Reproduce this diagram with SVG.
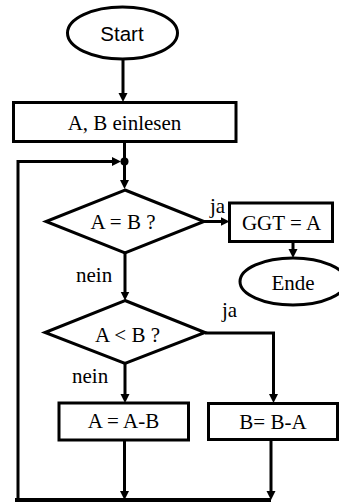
<svg xmlns="http://www.w3.org/2000/svg" width="339" height="502" viewBox="0 0 339 502">
  <style>
    .shape { fill: #fff; stroke: #000; stroke-width: 3; }
    .edge { fill: none; stroke: #000; stroke-width: 3; }
    .serif { font-family: "Liberation Serif", "Times New Roman", serif; font-size: 21px; fill: #000; }
    .sans { font-family: "Liberation Sans", Arial, sans-serif; font-size: 20.5px; fill: #000; }
    .mid { text-anchor: middle; }
  </style>
  <defs>
    <marker id="arrow" markerUnits="userSpaceOnUse" markerWidth="10" markerHeight="10" refX="4" refY="4.5" orient="auto">
      <path d="M0,0 L9,4.5 L0,9 z" fill="#000"/>
    </marker>
  </defs>

  <!-- connectors -->
  <g id="connectors">
    <path class="edge" d="M123,59 V97" marker-end="url(#arrow)"/>
    <path class="edge" d="M124.5,141.5 V161.5"/>
    <circle cx="124.5" cy="161.5" r="4" fill="#000"/>
    <path class="edge" d="M124.5,161.5 V184" marker-end="url(#arrow)"/>
    <path class="edge" d="M18,500 V161.5 H116" marker-end="url(#arrow)"/>
    <path class="edge" d="M204,221.5 H224.5" marker-end="url(#arrow)"/>
    <path class="edge" d="M293,241.5 V253" marker-end="url(#arrow)"/>
    <path class="edge" d="M125,253 V295.5" marker-end="url(#arrow)"/>
    <path class="edge" d="M205,333 H273.5 V398" marker-end="url(#arrow)"/>
    <path class="edge" d="M125,363.5 V398" marker-end="url(#arrow)"/>
    <path class="edge" d="M124.5,440 V495" marker-end="url(#arrow)"/>
    <path class="edge" d="M271,439.5 V495" marker-end="url(#arrow)"/>
    <path d="M15,500 H271" fill="none" stroke="#000" stroke-width="4"/>
    <text class="serif" x="210" y="213">ja</text>
    <text class="serif" x="76" y="281.5">nein</text>
    <text class="serif" x="222" y="317">ja</text>
    <text class="serif" x="72" y="383">nein</text>
  </g>

  <g id="start">
    <ellipse class="shape" cx="122.5" cy="33" rx="55" ry="26"/>
    <text class="sans mid" x="122" y="41">Start</text>
  </g>

  <g id="input">
    <rect class="shape" x="13.5" y="102.5" width="222.5" height="39"/>
    <text class="serif mid" x="124.5" y="129.5">A, B einlesen</text>
  </g>

  <g id="check-equal">
    <polygon class="shape" points="125,190 204,221.5 125,253 46,221.5"/>
    <text class="serif mid" x="123" y="229">A = B ?</text>
  </g>

  <g id="result">
    <rect class="shape" x="229.5" y="203" width="103" height="38.5"/>
    <text class="serif mid" x="281.5" y="230">GGT = A</text>
  </g>

  <g id="end">
    <ellipse class="shape" cx="293" cy="281.5" rx="53" ry="23.5"/>
    <text class="serif mid" x="293" y="290">Ende</text>
  </g>

  <g id="check-less">
    <polygon class="shape" points="125,300.5 205,332.5 125,363.5 45,332.5"/>
    <text class="serif mid" x="127.5" y="341.5">A &lt; B ?</text>
  </g>

  <g id="sub-a">
    <rect class="shape" x="59" y="403" width="129.5" height="37"/>
    <text class="serif mid" x="123.5" y="428">A = A-B</text>
  </g>

  <g id="sub-b">
    <rect class="shape" x="208.5" y="403.5" width="129" height="36"/>
    <text class="serif mid" x="273" y="429">B= B-A</text>
  </g>
</svg>
